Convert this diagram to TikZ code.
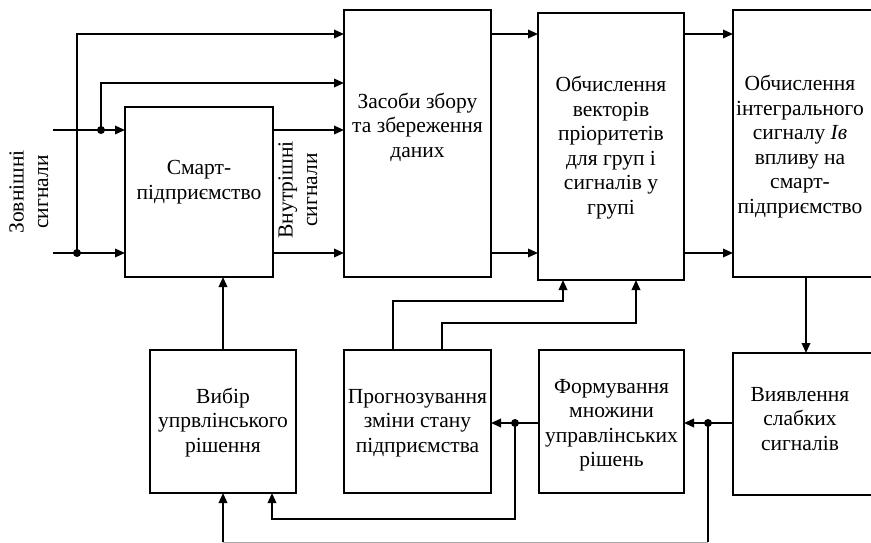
\documentclass[tikz,border=0pt]{standalone}
\usepackage{fontspec}
\setmainfont{Liberation Serif}
\usetikzlibrary{arrows.meta}
\newcommand{\mltext}[1]{\begin{tabular}{@{}c@{}}#1\end{tabular}}
\begin{document}
\begin{tikzpicture}[x=1pt,y=-1pt,
  blk/.style={draw, line width=1.8pt, inner sep=0pt, outer sep=0pt},
  openblk/.style={inner sep=0pt, outer sep=0pt},
  txt/.style={font=\fontsize{21.5}{24.5}\selectfont, inner sep=0pt},
  con/.style={line width=1.8pt},
  arr/.style={con, -{Triangle[length=10pt,width=8.5pt]}},
  jdot/.style={circle, fill, inner sep=0pt, minimum size=8pt}]
\useasboundingbox (0,0) rectangle (871,543);
% boxes
\node[blk, minimum width=148pt, minimum height=170pt] (smart) at (199,192) {};
\node[txt] (smartT) at (199,182) {\mltext{Смарт-\\підприємство}};
\node[blk, minimum width=147pt, minimum height=267pt] (zas) at (417.5,143.5) {};
\node[txt] (zasT) at (417.5,128) {\mltext{Засоби збору\\та збереження\\даних}};
\node[blk, minimum width=146pt, minimum height=267pt] (vek) at (611,146.5) {};
\node[txt] (vekT) at (611,148) {\mltext{Обчислення\\векторів\\пріоритетів\\для груп і\\сигналів у\\групі}};
\node[openblk, minimum width=138pt, minimum height=267pt] (int) at (802,143.5) {};
\draw[con] (int.north east) -- (int.north west) -- (int.south west) -- (int.south east);
\node[txt] (intT) at (800,147) {\mltext{Обчислення\\інтегрального\\сигналу {\itshape Iв}\\впливу на\\смарт-\\підприємство}};
\node[blk, minimum width=146pt, minimum height=143pt] (vyb) at (223,421.5) {};
\node[txt] (vybT) at (223,423) {\mltext{Вибір\\упрвлінського\\рішення}};
\node[blk, minimum width=147pt, minimum height=143pt] (progn) at (417.5,421.5) {};
\node[txt] (prognT) at (417.5,423) {\mltext{Прогнозування\\зміни стану\\підприємства}};
\node[blk, minimum width=145pt, minimum height=143pt] (form) at (611.5,421.5) {};
\node[txt] (formT) at (611.5,425) {\mltext{Формування\\множини\\управлінських\\рішень}};
\node[openblk, minimum width=138pt, minimum height=142pt] (vyy) at (802,424) {};
\draw[con] (vyy.north east) -- (vyy.north west) -- (vyy.south west) -- (vyy.south east);
\node[txt] (vyyT) at (800,421) {\mltext{Виявлення\\слабких\\сигналів}};
% rotated labels
\node[txt, rotate=90] (extL) at (31,192) {\mltext{Зовнішні\\сигнали}};
\node[txt, rotate=90] (inL) at (300,190) {\mltext{Внутрішні\\сигнали}};
% coordinates
\coordinate (inA) at (53,130);
\coordinate (inB) at (53,253);
\coordinate (jA) at (101,130);
\coordinate (jB) at (77,253);
\coordinate (y34) at (0,34);
\coordinate (y83) at (0,83);
\coordinate (x806) at (806,0);
\coordinate (y423) at (0,423);
\coordinate (dV) at (708,423);
\coordinate (dF) at (515,423);
\coordinate (bF) at (515,519);
\coordinate (x272) at (272,0);
\coordinate (bV) at (708,542.2);
\coordinate (bL) at (223,542.2);
\coordinate (x393) at (393,0);
\coordinate (x442) at (442,0);
\coordinate (y301) at (0,301);
\coordinate (y323) at (0,323);
\coordinate (x563) at (563,0);
\coordinate (x636) at (636,0);
% connectors
\draw[arr] (inA) -- (smart.west |- inA);
\draw[arr] (inB) -- (smart.west |- inB);
\draw[arr] (jB) |- (zas.west |- y34);
\draw[arr] (jA) |- (zas.west |- y83);
\draw[arr] (smart.east |- inA) -- (zas.west |- inA);
\draw[arr] (smart.east |- inB) -- (zas.west |- inB);
\draw[arr] (zas.east |- y34) -- (vek.west |- y34);
\draw[arr] (zas.east |- inB) -- (vek.west |- inB);
\draw[arr] (vek.east |- y34) -- (int.west |- y34);
\draw[arr] (vek.east |- inB) -- (int.west |- inB);
\draw[arr] (int.south -| x806) -- (vyy.north -| x806);
\draw[arr] (vyy.west |- y423) -- (form.east |- y423);
\draw[arr] (form.west |- y423) -- (progn.east |- y423);
\draw[arr] (dF) -- (bF) -| (vyb.south -| x272);
\draw[con] (dV) -- (bV);
\draw[line width=1pt, black!35] (bV) -- (bL);
\draw[arr] (bL) -- (vyb.south);
\draw[arr] (vyb.north) -- (smart.south -| vyb.north);
\draw[arr] (progn.north -| x393) |- (x563 |- y301) -- (vek.south -| x563);
\draw[arr] (progn.north -| x442) |- (x636 |- y323) -- (vek.south -| x636);
% junction dots
\node[jdot] (dotA) at (jA) {};
\node[jdot] (dotB) at (jB) {};
\node[jdot] (dotV) at (dV) {};
\node[jdot] (dotF) at (dF) {};
\end{tikzpicture}
\end{document}
